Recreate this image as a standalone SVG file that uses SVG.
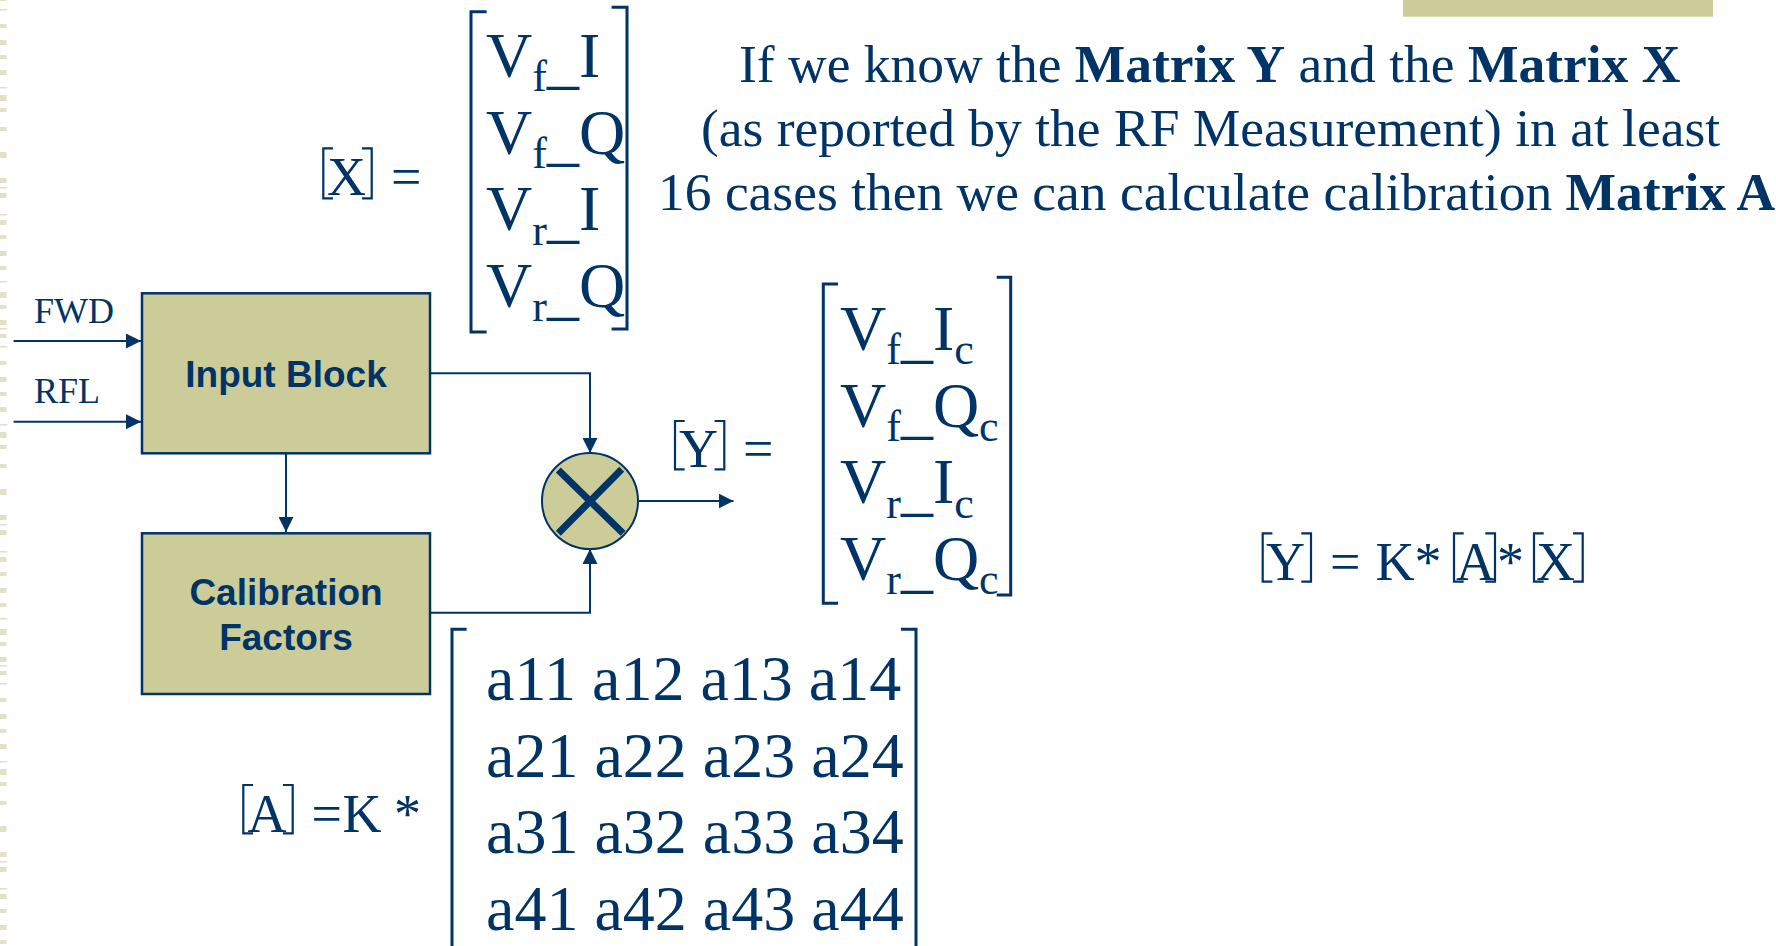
<svg xmlns="http://www.w3.org/2000/svg" width="1776" height="946" viewBox="0 0 1776 946">
<style>
.serif{font-family:"Liberation Serif","Times New Roman",serif;fill:#003366}
.sans{font-family:"Liberation Sans",Arial,sans-serif;font-weight:bold;fill:#003366}
.m{font-size:64px}
.s{font-size:44px}
.lbl{font-size:54px}
.desc{font-size:53.5px}
.io{font-size:36px}
.box{fill:#CCCC99;stroke:#003366;stroke-width:2.5}
.br{fill:none;stroke:#003366;stroke-width:3}
.sbr{fill:none;stroke:#003366;stroke-width:2.2}
.conn{fill:none;stroke:#003366;stroke-width:2}
.deco{fill:#E2E0C6}
</style>
<defs>
<marker id="arr" markerUnits="userSpaceOnUse" markerWidth="15" markerHeight="15" refX="15" refY="7.5" orient="auto">
<path d="M0,0 L15,7.5 L0,15 Z" fill="#003366"/>
</marker>
<pattern id="decoPat" x="0" y="152" width="8" height="337" patternUnits="userSpaceOnUse">
<rect class="deco" x="0" y="0" width="6.5" height="6"/>
<rect class="deco" x="0" y="26" width="6.5" height="5"/>
<rect class="deco" x="0" y="35" width="7.3" height="1.5"/>
<rect class="deco" x="0" y="41" width="6.5" height="5"/>
<rect class="deco" x="0" y="62" width="7.3" height="1.5"/>
<rect class="deco" x="0" y="68" width="6.5" height="5"/>
<rect class="deco" x="0" y="83" width="6.5" height="4"/>
<rect class="deco" x="0" y="99" width="6.5" height="5"/>
<rect class="deco" x="0" y="114" width="6.5" height="4"/>
<rect class="deco" x="0" y="129" width="7.3" height="1.5"/>
<rect class="deco" x="0" y="140" width="6.5" height="6"/>
<rect class="deco" x="0" y="153" width="6.5" height="4"/>
<rect class="deco" x="0" y="168" width="6.5" height="5"/>
<rect class="deco" x="0" y="176" width="7.3" height="1.5"/>
<rect class="deco" x="0" y="182" width="6.5" height="4"/>
<rect class="deco" x="0" y="194" width="7.3" height="1.5"/>
<rect class="deco" x="0" y="209" width="6.5" height="4"/>
<rect class="deco" x="0" y="225" width="6.5" height="5"/>
<rect class="deco" x="0" y="240" width="6.5" height="4"/>
<rect class="deco" x="0" y="255" width="6.5" height="5"/>
<rect class="deco" x="0" y="272" width="7.3" height="1.5"/>
<rect class="deco" x="0" y="280" width="6.5" height="6"/>
<rect class="deco" x="0" y="293" width="6.5" height="4"/>
<rect class="deco" x="0" y="312" width="6.5" height="4"/>
</pattern>
</defs>
<rect x="0" y="0" width="1776" height="946" fill="#FFFFFF"/>
<rect x="0" y="0" width="8" height="946" fill="url(#decoPat)"/>
<rect x="1403" y="0" width="310" height="16.7" fill="#CCCC99"/>

<g id="connectors">
<path class="conn" d="M13.6,341 H141" marker-end="url(#arr)"/>
<path class="conn" d="M13.6,421.7 H141" marker-end="url(#arr)"/>
<path class="conn" d="M286,453 V532" marker-end="url(#arr)"/>
<path class="conn" d="M430,373.3 H590 V453" marker-end="url(#arr)"/>
<path class="conn" d="M430,612.7 H590 V549" marker-end="url(#arr)"/>
<path class="conn" d="M638,501 H733.5" marker-end="url(#arr)"/>
</g>

<g id="input-labels">
<text class="serif io" x="34" y="322.7">FWD</text>
<text class="serif io" x="34" y="402.7">RFL</text>
</g>

<g id="input-block">
<rect class="box" x="142" y="293.3" width="288" height="160"/>
<text class="sans" font-size="37" x="286" y="386.7" text-anchor="middle">Input Block</text>
</g>

<g id="calibration-factors">
<rect class="box" x="142" y="533.3" width="288" height="160.7"/>
<text class="sans" font-size="37" x="286" y="605" text-anchor="middle">Calibration</text>
<text class="sans" font-size="37" x="286" y="650" text-anchor="middle">Factors</text>
</g>

<g id="multiplier">
<circle cx="590" cy="501" r="48" fill="#CCCC99" stroke="#003366" stroke-width="2"/>
<path d="M558.3,470 L623,533.3 M621.7,469.3 L558.3,533.3" stroke="#003366" stroke-width="7" fill="none"/>
</g>

<g id="matrix-x">
<text class="serif lbl" x="327" y="195">X</text>
<path class="sbr" d="M333,148.3 H323.3 V198.3 H333 M362,148.3 H371.7 V198.3 H362"/>
<text class="serif lbl" x="391" y="195">=</text>
<path class="br" d="M486.6,11.7 H471 V332 H486.6 M611.6,7.3 H627 V329 H611.6"/>
<text class="serif m" x="486" y="76.7">V<tspan class="s" dy="14.3">f</tspan><tspan dy="-8.7">_</tspan><tspan dy="-5.6">I</tspan></text>
<text class="serif m" x="486" y="153.5">V<tspan class="s" dy="14.3">f</tspan><tspan dy="-8.7">_</tspan><tspan dy="-5.6">Q</tspan></text>
<text class="serif m" x="486" y="230.3">V<tspan class="s" dy="14.3">r</tspan><tspan dy="-8.7">_</tspan><tspan dy="-5.6">I</tspan></text>
<text class="serif m" x="486" y="307">V<tspan class="s" dy="14.3">r</tspan><tspan dy="-8.7">_</tspan><tspan dy="-5.6">Q</tspan></text>
</g>

<g id="matrix-y">
<text class="serif lbl" x="679" y="466.5">Y</text>
<path class="sbr" d="M684.7,421 H675 V469.3 H684.7 M714.6,421 H724.3 V469.3 H714.6"/>
<text class="serif lbl" x="743" y="466.5">=</text>
<path class="br" d="M838,284 H823.3 V603.3 H838 M996.7,277.3 H1010.7 V595 H996.7"/>
<text class="serif m" x="840" y="350">V<tspan class="s" dy="14.3">f</tspan><tspan dy="-8.7">_</tspan><tspan dy="-5.6">I</tspan><tspan class="s" dy="14.3">c</tspan></text>
<text class="serif m" x="840" y="426.7">V<tspan class="s" dy="14.3">f</tspan><tspan dy="-8.7">_</tspan><tspan dy="-5.6">Q</tspan><tspan class="s" dy="14.3">c</tspan></text>
<text class="serif m" x="840" y="503.3">V<tspan class="s" dy="14.3">r</tspan><tspan dy="-8.7">_</tspan><tspan dy="-5.6">I</tspan><tspan class="s" dy="14.3">c</tspan></text>
<text class="serif m" x="840" y="580">V<tspan class="s" dy="14.3">r</tspan><tspan dy="-8.7">_</tspan><tspan dy="-5.6">Q</tspan><tspan class="s" dy="14.3">c</tspan></text>
</g>

<g id="matrix-a">
<text class="serif lbl" x="247.5" y="831.7">A</text>
<path class="sbr" d="M253,785 H243.3 V833.3 H253 M283,785 H292.7 V833.3 H283"/>
<text class="serif lbl" x="311.5" y="831.7">=<tspan x="342.5">K</tspan><tspan x="394">*</tspan></text>
<path class="br" d="M466.6,629.3 H452 V950 M901,629.3 H916 V950"/>
<text class="serif m" x="486" y="700">a11 a12 a13 a14</text>
<text class="serif m" x="486" y="776.7">a21 a22 a23 a24</text>
<text class="serif m" x="486" y="853.3">a31 a32 a33 a34</text>
<text class="serif m" x="486" y="930">a41 a42 a43 a44</text>
</g>

<g id="description">
<text class="serif desc" x="739" y="81.7">If we know the <tspan font-weight="bold">Matrix Y</tspan> and the <tspan font-weight="bold">Matrix X</tspan></text>
<text class="serif desc" x="701" y="146">(as reported by the RF Measurement) in at least</text>
<text class="serif desc" x="658" y="210">16 cases then we can calculate calibration <tspan font-weight="bold">Matrix A</tspan></text>
</g>

<g id="equation">
<text class="serif lbl" y="580"><tspan x="1266">Y</tspan><tspan x="1330">=</tspan><tspan x="1375.5">K</tspan><tspan x="1414.5">*</tspan><tspan x="1456">A</tspan><tspan x="1497">*</tspan><tspan x="1536">X</tspan></text>
<path class="sbr" d="M1272.4,533.3 H1262.7 V581.7 H1272.4 M1301.3,533.3 H1311 V581.7 H1301.3"/>
<path class="sbr" d="M1463.7,533.3 H1454 V581.7 H1463.7 M1485.3,533.3 H1495 V581.7 H1485.3"/>
<path class="sbr" d="M1543.7,533.3 H1534 V581.7 H1543.7 M1573,533.3 H1582.7 V581.7 H1573"/>
</g>
</svg>
